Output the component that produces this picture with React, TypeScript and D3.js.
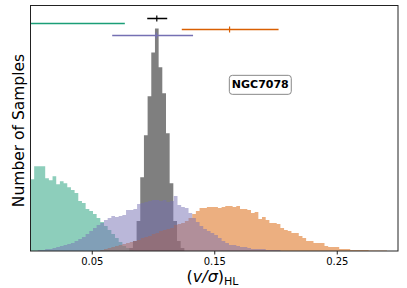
import { useRef, useEffect } from 'react';
import * as d3 from 'd3';

const binWidth = 0.003;

const grayStart = 0.0806;
const grayCounts = [12, 40, 120, 296, 464, 620, 796, 892, 736, 632, 472, 272, 120, 40, 12];

const greenStart = 0.0;
const greenCounts = [288, 340, 340, 340, 292, 284, 300, 268, 280, 272, 256, 244, 232, 200, 192, 168, 160, 148, 132, 116, 100, 84, 68, 52, 36, 20, 12, 4];

const orangeStart = 0.057;
const orangeCounts = [4, 8, 12, 16, 20, 24, 28, 32, 36, 40, 44, 52, 56, 60, 68, 72, 80, 84, 88, 92, 104, 108, 112, 120, 132, 148, 160, 172, 172, 176, 176, 176, 172, 176, 180, 180, 176, 180, 168, 168, 164, 152, 156, 128, 136, 124, 112, 112, 108, 92, 84, 80, 72, 72, 60, 52, 40, 40, 32, 32, 32, 20, 16, 16, 16, 8, 8, 8, 4, 4, 4, 4, 4, 2, 2, 2, 2, 2];

const purpleStart = 0.006;
const purpleCounts = [4, 4, 8, 8, 12, 16, 20, 24, 28, 32, 40, 48, 56, 68, 80, 92, 104, 112, 124, 132, 140, 136, 140, 144, 164, 164, 168, 188, 192, 196, 200, 204, 204, 200, 204, 196, 200, 220, 184, 176, 172, 152, 132, 116, 100, 88, 80, 72, 64, 52, 40, 32, 24, 24, 20, 16, 16, 12, 8, 8, 8, 8, 4, 4, 4, 4];

// error bars: black, green, orange, purple
const errColors = ['#000000', '#1b9e77', '#d95f02', '#7570b3'];
const errCenters = [0.1031, -0.01, 0.1625, 0.1026];
const errLow = [0.0953, -0.09, 0.1235, 0.0667];
const errHigh = [0.1116, 0.077, 0.2025, 0.1327];
const errLevels = [934, 912, 888, 866];

const xTicks = [0.05, 0.15, 0.25];
const galaxyName = 'NGC7078';

export default function App() {
  const svgRef = useRef<SVGSVGElement>(null);

  useEffect(() => {
    if (!svgRef.current) return;

    const width = 407;
    const height = 288;
    const margin = { top: 5.5, right: 9, bottom: 37, left: 30.5 };
    const font = 'DejaVu Sans';

    const svg = d3.select(svgRef.current)
      .attr('width', width)
      .attr('height', height);

    svg.selectAll('*').remove();

    const x = d3.scaleLinear()
      .domain([0, 0.3])
      .range([margin.left, width - margin.right]);

    const y = d3.scaleLinear()
      .domain([0, 984])
      .range([height - margin.bottom, margin.top]);

    svg.append('clipPath')
      .attr('id', 'plot-clip')
      .append('rect')
      .attr('x', margin.left)
      .attr('y', margin.top)
      .attr('width', width - margin.left - margin.right)
      .attr('height', height - margin.top - margin.bottom);

    const plot = svg.append('g').attr('clip-path', 'url(#plot-clip)');

    const area = d3.area<[number, number]>()
      .x(d => x(d[0]))
      .y0(y(0))
      .y1(d => y(d[1]))
      .curve(d3.curveStepAfter);

    const hists = [
      { start: grayStart, counts: grayCounts, color: '#000000' },
      { start: greenStart, counts: greenCounts, color: '#1b9e77' },
      { start: orangeStart, counts: orangeCounts, color: '#d95f02' },
      { start: purpleStart, counts: purpleCounts, color: '#7570b3' },
    ];

    hists.forEach(h => {
      const pts: [number, number][] = h.counts.map((c, i) => [h.start + i * binWidth, c]);
      pts.push([h.start + h.counts.length * binWidth, h.counts[h.counts.length - 1]]);
      plot.append('path')
        .datum(pts)
        .attr('fill', h.color)
        .attr('fill-opacity', 0.5)
        .attr('d', area);
    });

    // error bars
    errColors.forEach((c, i) => {
      const yy = Math.round(y(errLevels[i])) + 0.5;
      plot.append('line')
        .attr('x1', x(errLow[i]))
        .attr('x2', x(errHigh[i]))
        .attr('y1', yy)
        .attr('y2', yy)
        .attr('stroke', c)
        .attr('stroke-width', 1.5);
      plot.append('line')
        .attr('x1', x(errCenters[i]))
        .attr('x2', x(errCenters[i]))
        .attr('y1', yy - 3)
        .attr('y2', yy + 3)
        .attr('stroke', c)
        .attr('stroke-width', 1.2);
    });

    // frame
    svg.append('rect')
      .attr('x', margin.left)
      .attr('y', margin.top)
      .attr('width', width - margin.left - margin.right)
      .attr('height', height - margin.top - margin.bottom)
      .attr('fill', 'none')
      .attr('stroke', '#222')
      .attr('stroke-width', 1);

    const xAxis = d3.axisBottom(x)
      .tickValues(xTicks)
      .tickSize(3.5)
      .tickPadding(3)
      .tickFormat(d3.format('.2f'));

    const gx = svg.append('g')
      .attr('transform', `translate(0,${height - margin.bottom})`)
      .call(xAxis);
    gx.select('.domain').remove();
    gx.selectAll('text')
      .attr('font-family', font)
      .attr('font-size', 10)
      .attr('fill', '#000');
    gx.selectAll('line').attr('stroke', '#222');

    // label box
    const bx = x(0.1876);
    const by = y(666);
    const label = svg.append('g');
    const txt = label.append('text')
      .attr('x', bx)
      .attr('y', by)
      .attr('text-anchor', 'middle')
      .attr('dominant-baseline', 'central')
      .attr('font-family', font)
      .attr('font-weight', 'bold')
      .attr('font-size', 11)
      .text(galaxyName);
    const bb = (txt.node() as SVGTextElement).getBBox();
    label.insert('rect', 'text')
      .attr('x', bb.x - 2.5)
      .attr('y', by - 9.5)
      .attr('width', bb.width + 5)
      .attr('height', 19)
      .attr('rx', 3)
      .attr('fill', '#fff')
      .attr('stroke', '#888')
      .attr('stroke-width', 1);

    // axis labels
    svg.append('text')
      .attr('transform', `translate(24,130.5) rotate(-90)`)
      .attr('text-anchor', 'middle')
      .attr('font-family', font)
      .attr('font-size', 15.5)
      .text('Number of Samples');

    const xl = svg.append('text')
      .attr('x', 212.5)
      .attr('y', 281.5)
      .attr('text-anchor', 'middle')
      .attr('font-family', font)
      .attr('font-size', 16);
    xl.append('tspan').text('(');
    xl.append('tspan').attr('font-style', 'italic').text('v/σ');
    xl.append('tspan').text(')');
    xl.append('tspan').attr('font-size', 11).attr('dy', 3).text('HL');
  }, []);

  return (
    <svg ref={svgRef} style={{ position: 'absolute', left: 0, top: 0, background: '#fff' }}></svg>
  );
}
